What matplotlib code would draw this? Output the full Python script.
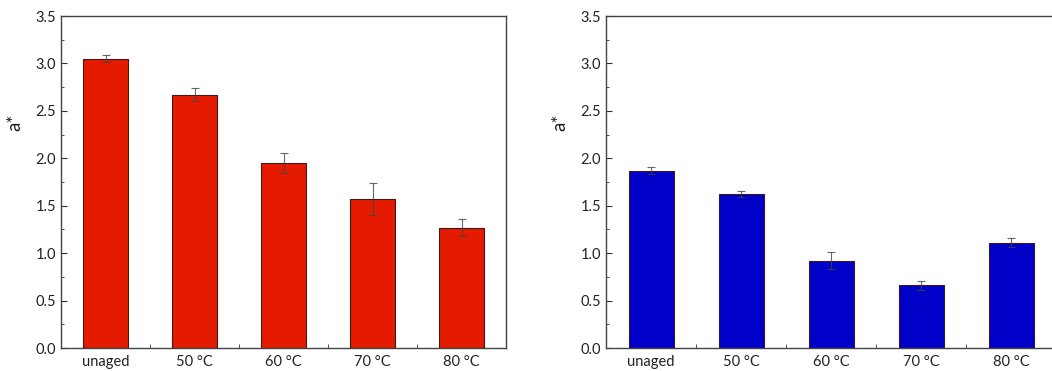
import matplotlib
matplotlib.use("Agg")
import matplotlib.pyplot as plt
from matplotlib.ticker import MultipleLocator, FixedLocator

plt.rcParams['font.family'] = ['Lato', 'DejaVu Sans']

# data
categories = ['unaged', '50 °C', '60 °C', '70 °C', '80 °C']
a_left = [3.05, 2.67, 1.95, 1.57, 1.27]
err_left = [0.04, 0.07, 0.11, 0.17, 0.09]
a_right = [1.87, 1.62, 0.92, 0.66, 1.11]
err_right = [0.04, 0.03, 0.09, 0.05, 0.05]

W, H = 1052, 371
fig = plt.figure(figsize=(W / 100, H / 100), dpi=100)

ax1 = fig.add_axes([61 / W, 23 / H, 445 / W, 332 / H])
ax2 = fig.add_axes([606 / W, 23 / H, 450 / W, 332 / H])


def draw(ax, vals, errs, color):
    x = range(len(categories))
    ax.bar(x, vals, width=0.5, color=color, edgecolor='#3a1a1a', linewidth=0.8, zorder=2)
    ax.errorbar(x, vals, yerr=errs, fmt='none', ecolor='#444444', elinewidth=0.8,
                capsize=3, capthick=0.8, alpha=0.8, zorder=3)
    ax.set_xlim(-0.5, len(categories) - 0.5)
    ax.set_ylim(0, 3.5)
    ax.set_xticks(list(x))
    ax.set_xticklabels(categories)
    ax.xaxis.set_minor_locator(FixedLocator([0.5, 1.5, 2.5, 3.5]))
    ax.tick_params(axis='x', which='major', length=0, pad=5)
    ax.tick_params(axis='x', which='minor', direction='in', length=3, color='#333333')
    ax.yaxis.set_major_locator(MultipleLocator(0.5))
    ax.yaxis.set_minor_locator(MultipleLocator(0.25))
    ax.tick_params(axis='y', which='major', direction='in', length=4, color='#333333')
    ax.tick_params(axis='y', which='minor', direction='in', length=2, color='#333333')
    ax.tick_params(axis='both', labelsize=10.5, labelcolor='#222222')
    ax.yaxis.set_major_formatter(matplotlib.ticker.FormatStrFormatter('%.1f'))
    for s in ax.spines.values():
        s.set_color('#444444')
        s.set_linewidth(1.0)
    ax.set_ylabel('a*', fontsize=13.5, color='#222222')


draw(ax1, a_left, err_left, '#E41B00')
draw(ax2, a_right, err_right, '#0000C8')
ax1.yaxis.set_label_coords(-0.085, 0.68)
ax2.yaxis.set_label_coords(-0.083, 0.68)

fig.savefig('out.png', dpi=100)
